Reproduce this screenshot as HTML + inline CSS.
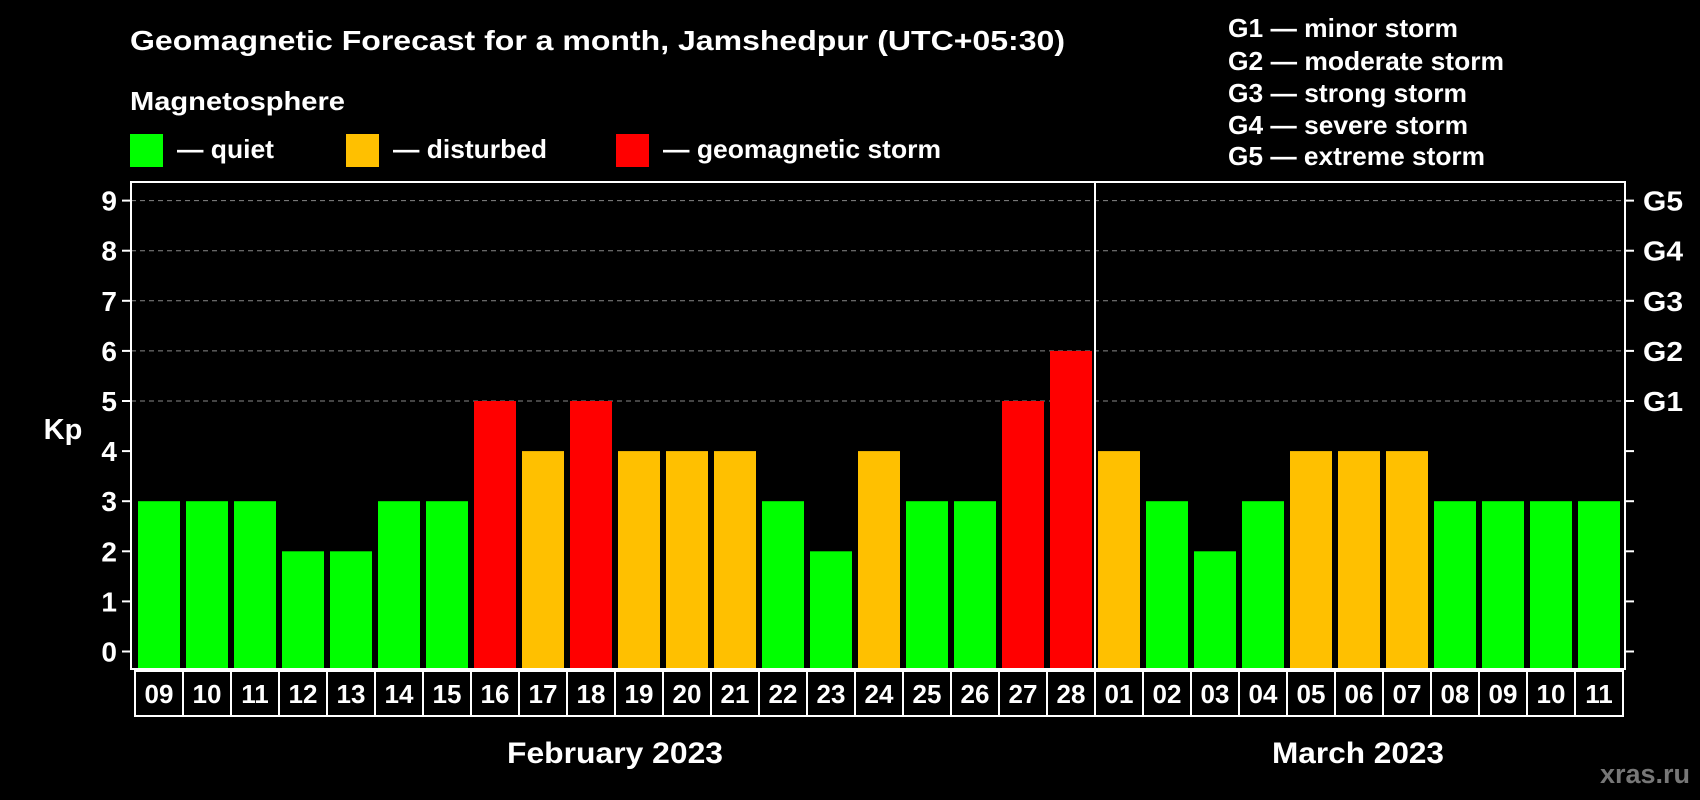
<!DOCTYPE html>
<html><head><meta charset="utf-8"><style>
html,body{margin:0;padding:0;background:#000;}
svg{display:block;font-family:"Liberation Sans",Arial,sans-serif;font-weight:bold;}
</style></head><body>
<svg id="chart" width="1700" height="800" viewBox="0 0 1700 800">
<rect width="1700" height="800" fill="#000"/>
<text x="130" y="50" fill="#fff" font-size="28" textLength="935" lengthAdjust="spacingAndGlyphs">Geomagnetic Forecast for a month, Jamshedpur (UTC+05:30)</text>
<text x="130" y="110" fill="#fff" font-size="26" textLength="215" lengthAdjust="spacingAndGlyphs">Magnetosphere</text>
<g><rect x="130" y="134" width="33" height="33" fill="#00ff00"/><text x="177" y="158" fill="#fff" font-size="26" textLength="97" lengthAdjust="spacingAndGlyphs">— quiet</text></g>
<g><rect x="346" y="134" width="33" height="33" fill="#ffc000"/><text x="393" y="158" fill="#fff" font-size="26" textLength="154" lengthAdjust="spacingAndGlyphs">— disturbed</text></g>
<g><rect x="616" y="134" width="33" height="33" fill="#ff0000"/><text x="663" y="158" fill="#fff" font-size="26" textLength="278" lengthAdjust="spacingAndGlyphs">— geomagnetic storm</text></g>
<g fill="#fff" font-size="26">
<text x="1228" y="37" textLength="230" lengthAdjust="spacingAndGlyphs">G1 — minor storm</text>
<text x="1228" y="70" textLength="276" lengthAdjust="spacingAndGlyphs">G2 — moderate storm</text>
<text x="1228" y="102" textLength="239" lengthAdjust="spacingAndGlyphs">G3 — strong storm</text>
<text x="1228" y="134" textLength="240" lengthAdjust="spacingAndGlyphs">G4 — severe storm</text>
<text x="1228" y="165" textLength="257" lengthAdjust="spacingAndGlyphs">G5 — extreme storm</text>
</g>
<text x="63" y="439" fill="#fff" font-size="29" text-anchor="middle">Kp</text>
<g id="grid"></g><g id="bars"></g><g id="axes"></g>
<text x="615" y="763" fill="#fff" font-size="30" text-anchor="middle" textLength="216" lengthAdjust="spacingAndGlyphs">February 2023</text>
<text x="1358" y="763" fill="#fff" font-size="30" text-anchor="middle" textLength="172" lengthAdjust="spacingAndGlyphs">March 2023</text>
<text x="1690" y="783" fill="#777" font-size="27" text-anchor="end">xras.ru</text>
</svg>
<script>
const days = ["09","10","11","12","13","14","15","16","17","18","19","20","21","22","23","24","25","26","27","28","01","02","03","04","05","06","07","08","09","10","11"];
const kpValues = [3,3,3,2,2,3,3,5,4,5,4,4,4,3,2,4,3,3,5,6,4,3,2,3,4,4,4,3,3,3,3];
const yTicks = [0,1,2,3,4,5,6,7,8,9];
const gLabels = ["","","","","","G1","G2","G3","G4","G5"];
const monthSplitIndex = 20;
const NS="http://www.w3.org/2000/svg";
const L=131,R=1625,T=182,B=669;
const x0=138,step=48,bw=42;
const y=v=>651.5-v*50.1;
const xb=i=>x0+i*step;
function mk(tag,attrs,parent,txt){const e=document.createElementNS(NS,tag);for(const k in attrs)e.setAttribute(k,attrs[k]);if(txt!==undefined)e.textContent=txt;parent.appendChild(e);return e;}
const grid=document.getElementById('grid'),bars=document.getElementById('bars'),axes=document.getElementById('axes');
yTicks.forEach((t,i)=>{
  if(t>=5){const g=mk('line',{x1:L,x2:R,y1:y(t),y2:y(t),stroke:'#888','stroke-dasharray':'5,4','stroke-width':1},grid);
  
  }
  const tl=mk('line',{x1:122,x2:L,y1:y(t),y2:y(t),stroke:'#fff','stroke-width':2},axes);
  
  
  const tr=mk('line',{x1:R,x2:1634,y1:y(t),y2:y(t),stroke:'#fff','stroke-width':2},axes);
  
  
  const lb=mk('text',{x:117,y:y(t)+10,fill:'#fff','font-size':28,'text-anchor':'end'},axes,String(t));
  
  
  if(gLabels[i]){const gl=mk('text',{x:1643,y:y(t)+10,fill:'#fff','font-size':28,textLength:40,lengthAdjust:'spacingAndGlyphs'},axes,gLabels[i]);
  
  }
});
kpValues.forEach((v,i)=>{
  const c=v>=5?'#ff0000':(v>=4?'#ffc000':'#00ff00');
  const b=mk('rect',{x:xb(i),y:y(v),width:bw,height:B-y(v),fill:c},bars);
  
  
  const cell=mk('rect',{x:xb(i)-3,y:671,width:step,height:45,fill:'none',stroke:'#fff','stroke-width':2},axes);
  
  
  const dl=mk('text',{x:xb(i)+bw/2,y:703,fill:'#fff','font-size':26,'text-anchor':'middle'},axes,days[i]);
  
  
});
const frame=mk('rect',{x:L,y:T,width:R-L,height:B-T,fill:'none',stroke:'#fff','stroke-width':2},axes);


const sx=xb(monthSplitIndex)-3;
const div=mk('line',{x1:sx,x2:sx,y1:T,y2:B,stroke:'#fff','stroke-width':2},axes);


</script>
</body></html>
